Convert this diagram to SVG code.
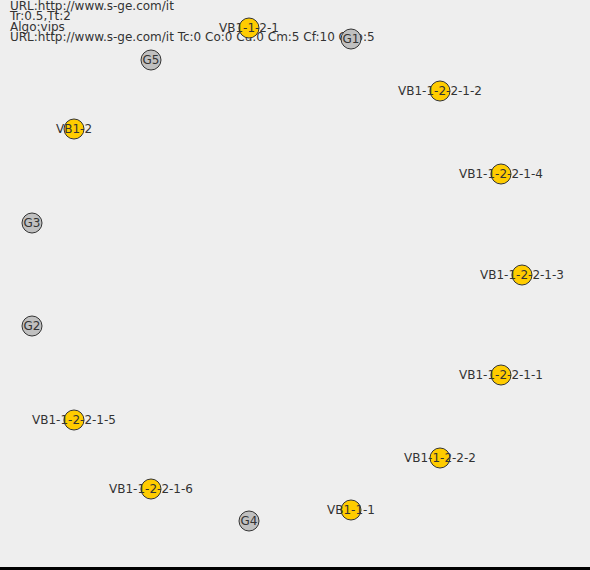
<svg xmlns="http://www.w3.org/2000/svg" width="590" height="570" viewBox="0 0 590 570">
<style>
.hdr{font-family:"DejaVu Sans",sans-serif;font-size:12px;fill:#333333}
.lbl{font-family:"DejaVu Sans",sans-serif;font-size:12px;fill:#333333;text-anchor:middle}
.vb{fill:#FFCC00;stroke:#333333;stroke-width:1}
.g{fill:#C0C0C0;stroke:#333333;stroke-width:1}
</style>
<rect x="0" y="0" width="590" height="570" fill="#EEEEEE"/>
<rect x="0" y="567" width="590" height="3" fill="#000000"/>
<g id="header">
<text class="hdr" x="10" y="9.5">URL:http://www.s-ge.com/it</text>
<text class="hdr" x="10" y="20">Tr:0.5,Tt:2</text>
<text class="hdr" x="10" y="30.5">Algo:vips</text>
<text class="hdr" x="10" y="41">URL:http://www.s-ge.com/it Tc:0 Co:0 Cu:0 Cm:5 Cf:10 Gap:5</text>
</g>
<g id="connectors"></g>
<g id="n-VB1-1-2-1"><circle class="vb" cx="249" cy="28" r="10"/><text class="lbl" x="249" y="32">VB1-1-2-1</text></g>
<g id="n-G1"><circle class="g" cx="351" cy="39" r="10"/><text class="lbl" x="351" y="43">G1</text></g>
<g id="n-G5"><circle class="g" cx="151" cy="60" r="10"/><text class="lbl" x="151" y="64">G5</text></g>
<g id="n-VB1-2"><circle class="vb" cx="74" cy="129" r="10"/><text class="lbl" x="74" y="133">VB1-2</text></g>
<g id="n-VB1-1-2-2-1-2"><circle class="vb" cx="440" cy="91" r="10"/><text class="lbl" x="440" y="95">VB1-1-2-2-1-2</text></g>
<g id="n-VB1-1-2-2-1-4"><circle class="vb" cx="501" cy="174" r="10"/><text class="lbl" x="501" y="178">VB1-1-2-2-1-4</text></g>
<g id="n-G3"><circle class="g" cx="32" cy="223" r="10"/><text class="lbl" x="32" y="227">G3</text></g>
<g id="n-VB1-1-2-2-1-3"><circle class="vb" cx="522" cy="275" r="10"/><text class="lbl" x="522" y="279">VB1-1-2-2-1-3</text></g>
<g id="n-G2"><circle class="g" cx="32" cy="326" r="10"/><text class="lbl" x="32" y="330">G2</text></g>
<g id="n-VB1-1-2-2-1-1"><circle class="vb" cx="501" cy="375" r="10"/><text class="lbl" x="501" y="379">VB1-1-2-2-1-1</text></g>
<g id="n-VB1-1-2-2-1-5"><circle class="vb" cx="74" cy="420" r="10"/><text class="lbl" x="74" y="424">VB1-1-2-2-1-5</text></g>
<g id="n-VB1-1-2-2-2"><circle class="vb" cx="440" cy="458" r="10"/><text class="lbl" x="440" y="462">VB1-1-2-2-2</text></g>
<g id="n-VB1-1-2-2-1-6"><circle class="vb" cx="151" cy="489" r="10"/><text class="lbl" x="151" y="493">VB1-1-2-2-1-6</text></g>
<g id="n-VB1-1-1"><circle class="vb" cx="351" cy="510" r="10"/><text class="lbl" x="351" y="514">VB1-1-1</text></g>
<g id="n-G4"><circle class="g" cx="249" cy="521" r="10"/><text class="lbl" x="249" y="525">G4</text></g>
</svg>
